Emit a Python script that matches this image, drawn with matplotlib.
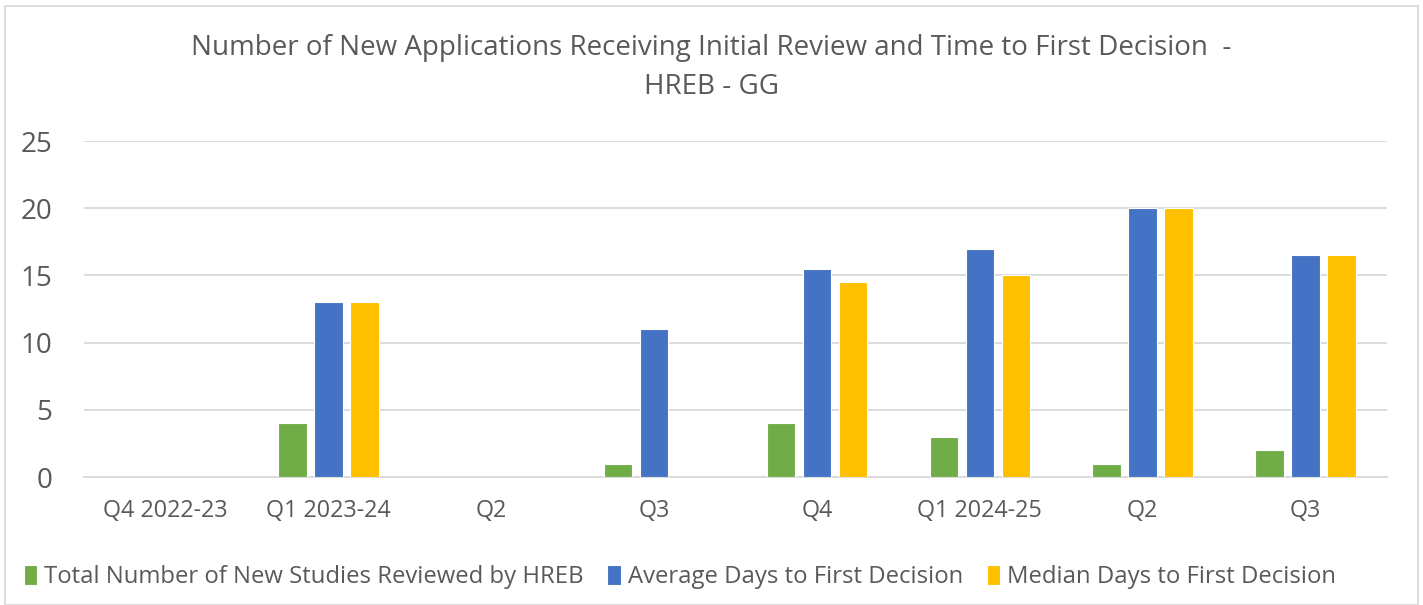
import matplotlib
matplotlib.use("Agg")
import matplotlib.pyplot as plt
import numpy as np
from matplotlib.patches import Rectangle

categories = ["Q4 2022-23", "Q1 2023-24", "Q2", "Q3", "Q4", "Q1 2024-25", "Q2", "Q3"]
total_new = [0, 4, 0, 1, 4, 3, 1, 2]
avg_days = [0, 13, 0, 11, 15.5, 17, 20, 16.5]
median_days = [0, 13, 0, 0, 14.5, 15, 20, 16.5]
series_names = ["Total Number of New Studies Reviewed by HREB",
                "Average Days to First Decision",
                "Median Days to First Decision"]
colors = ["#70AD47", "#4472C4", "#FFC000"]

plt.rcParams['font.family'] = ['Open Sans', 'DejaVu Sans']
txt = "#595959"

fig = plt.figure(figsize=(14.23, 6.05), dpi=100)
W, H = 1423, 605
ax = fig.add_axes([84 / W, 1 - 477 / H, (1387 - 84) / W, (477 - 141) / H])

x = np.arange(len(categories))
bw = 0.175
off = 0.221
for i, (vals, c, name) in enumerate(zip([total_new, avg_days, median_days], colors, series_names)):
    ax.bar(x + (i - 1) * off, vals, width=bw, color=c, edgecolor="white", linewidth=0.8, label=name, zorder=3)

ax.set_xlim(-0.5, len(categories) - 0.5)
ax.set_ylim(0, 25)
ax.set_yticks([0, 5, 10, 15, 20, 25])
ax.grid(axis="y", color="#D9D9D9", linewidth=1.3, zorder=0)
ax.set_axisbelow(True)
for s in ["top", "right", "left"]:
    ax.spines[s].set_visible(False)
ax.spines["bottom"].set_color("#D9D9D9")
ax.spines["bottom"].set_linewidth(1.3)
ax.tick_params(axis="both", length=0, colors=txt)
ax.tick_params(axis="y", pad=23, labelsize=20)
ax.tick_params(axis="x", pad=16, labelsize=16.8)
ax.set_xticks(x)
ax.set_xticklabels(categories)

fig.text(711 / W, 1 - 48 / H, "Number of New Applications Receiving Initial Review and Time to First Decision  -",
         ha="center", va="center", fontsize=20, color=txt)
fig.text(711 / W, 1 - 87 / H, "HREB - GG", ha="center", va="center", fontsize=20, color=txt)

leg = fig.legend(loc="center", bbox_to_anchor=(680 / W, 1 - 577 / H), ncol=3, frameon=False,
                 fontsize=17.2, handlelength=0.55, handleheight=0.9, handletextpad=0.3,
                 columnspacing=1.0, labelcolor=txt)

fig.patches.append(Rectangle((5 / W, 0), (1418 - 5) / W, 1 - 6 / H, transform=fig.transFigure,
                             fill=False, edgecolor="#D9D9D9", linewidth=1.3))
fig.savefig("out.png", dpi=100)
